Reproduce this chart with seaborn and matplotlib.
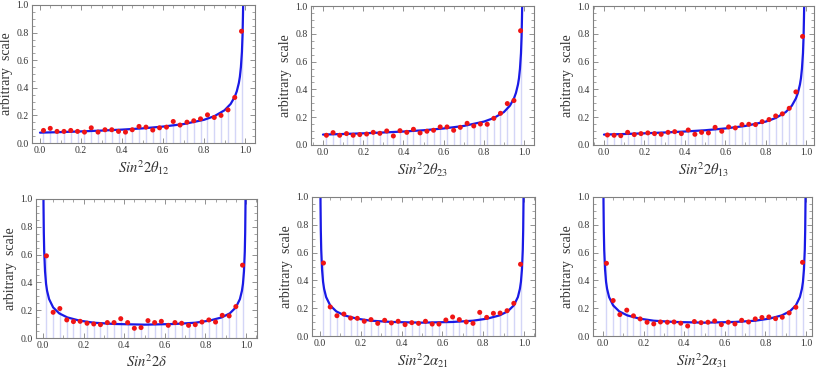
import numpy as np
import pandas as pd
import matplotlib
matplotlib.use("Agg")
import matplotlib.pyplot as plt
import seaborn as sns
from matplotlib.ticker import MultipleLocator, FormatStrFormatter

sns.set_theme(style="ticks")
plt.rcParams.update({
    "font.family": ["Liberation Serif", "DejaVu Serif"],
    "mathtext.fontset": "stix",
})

# ---- data ----
X_BINS = [0.017, 0.05, 0.083, 0.117, 0.15, 0.183, 0.217, 0.25, 0.283, 0.317,
          0.35, 0.383, 0.417, 0.45, 0.483, 0.517, 0.55, 0.583, 0.617, 0.65,
          0.683, 0.717, 0.75, 0.783, 0.817, 0.85, 0.883, 0.917, 0.95, 0.983]

theta12 = [0.091, 0.106, 0.084, 0.084, 0.091, 0.084, 0.079, 0.110, 0.079, 0.096,
           0.096, 0.084, 0.079, 0.096, 0.120, 0.115, 0.094, 0.110, 0.115, 0.156,
           0.130, 0.151, 0.161, 0.175, 0.204, 0.185, 0.200, 0.240, 0.330, 0.810]
theta23 = [0.070, 0.089, 0.070, 0.082, 0.070, 0.075, 0.079, 0.091, 0.084, 0.101,
           0.065, 0.103, 0.091, 0.113, 0.087, 0.099, 0.106, 0.130, 0.130, 0.106,
           0.127, 0.156, 0.137, 0.151, 0.149, 0.192, 0.228, 0.298, 0.320, 0.822]
theta13 = [0.072, 0.070, 0.067, 0.091, 0.075, 0.082, 0.087, 0.082, 0.077, 0.091,
           0.096, 0.082, 0.108, 0.077, 0.091, 0.087, 0.127, 0.099, 0.130, 0.123,
           0.147, 0.149, 0.147, 0.168, 0.183, 0.209, 0.224, 0.264, 0.382, 0.781]
delta = [0.591, 0.185, 0.212, 0.130, 0.118, 0.120, 0.106, 0.101, 0.096, 0.111,
         0.111, 0.139, 0.111, 0.070, 0.075, 0.125, 0.111, 0.120, 0.091, 0.111,
         0.106, 0.091, 0.096, 0.115, 0.130, 0.115, 0.163, 0.159, 0.226, 0.524]
alpha21 = [0.525, 0.209, 0.146, 0.158, 0.129, 0.127, 0.106, 0.118, 0.091, 0.113,
           0.094, 0.106, 0.082, 0.096, 0.091, 0.106, 0.086, 0.086, 0.115, 0.137,
           0.118, 0.101, 0.091, 0.170, 0.134, 0.163, 0.165, 0.182, 0.235, 0.516]
alpha31 = [0.523, 0.255, 0.154, 0.186, 0.145, 0.123, 0.099, 0.087, 0.101, 0.099,
           0.101, 0.092, 0.072, 0.104, 0.096, 0.099, 0.108, 0.082, 0.099, 0.087,
           0.113, 0.101, 0.123, 0.133, 0.137, 0.125, 0.135, 0.166, 0.207, 0.530]

# fitted curves
CURVE_MIX_X = [0.0, 0.1, 0.2, 0.3, 0.4, 0.5, 0.6, 0.7, 0.8, 0.85, 0.9, 0.93,
               0.95, 0.96, 0.97, 0.975, 0.98, 0.985, 0.988, 0.99, 0.992]
CURVE_MIX_Y = [0.075, 0.079, 0.084, 0.090, 0.097, 0.106, 0.119, 0.137, 0.168,
               0.194, 0.237, 0.283, 0.335, 0.375, 0.435, 0.48, 0.55, 0.66,
               0.78, 0.92, 1.08]
CURVE_PHASE_X = [0.0015, 0.0025, 0.004, 0.006, 0.01, 0.015, 0.02, 0.03, 0.05,
                 0.08, 0.12, 0.18, 0.25, 0.35, 0.5, 0.65, 0.75, 0.82, 0.88,
                 0.92, 0.95, 0.97, 0.98, 0.985, 0.99, 0.994, 0.996, 0.9975, 0.9985]
CURVE_PHASE_Y = [1.24, 0.96, 0.76, 0.62, 0.48, 0.39, 0.34, 0.28, 0.22,
                 0.177, 0.148, 0.125, 0.110, 0.101, 0.096, 0.101, 0.110, 0.125,
                 0.148, 0.177, 0.22, 0.28, 0.34, 0.39, 0.48, 0.62, 0.76, 0.96, 1.24]

PANELS = [
    (theta12, r"$Sin^{2}2\theta_{12}$", "mix"),
    (theta23, r"$Sin^{2}2\theta_{23}$", "mix"),
    (theta13, r"$Sin^{2}2\theta_{13}$", "mix"),
    (delta, r"$Sin^{2}2\delta$", "phase"),
    (alpha21, r"$Sin^{2}2\alpha_{21}$", "phase"),
    (alpha31, r"$Sin^{2}2\alpha_{31}$", "phase"),
]

# axes boxes in pixels: left, top, right, bottom
BOXES = [
    (32, 5, 255, 143), (311, 6, 534, 145), (593, 6, 814, 145),
    (36, 199, 257, 338), (312, 197, 535, 336), (593, 197, 812, 336),
]
X0 = [40, 323, 604, 43, 320, 603]   # pixel of x=0
X1 = [245, 524, 806, 246, 524, 806]  # pixel of x=1

W, H = 817, 370
fig = plt.figure(figsize=(W / 100, H / 100), dpi=100)
fig.patch.set_facecolor("white")

FRAME = "#808080"
for (vals, xlabel, kind), (l, t, r, b), p0, p1 in zip(PANELS, BOXES, X0, X1):
    ax = fig.add_axes([l / W, 1 - b / H, (r - l) / W, (b - t) / H])
    scale = p1 - p0
    ax.set_xlim((l - p0) / scale, (r - p0) / scale)
    ax.set_ylim(0, 1)

    df = pd.DataFrame({"x": X_BINS, "y": vals})
    ax.vlines(df["x"], 0, df["y"], color="#d4d6f7", linewidth=1.0, zorder=1)

    if kind == "mix":
        cdf = pd.DataFrame({"x": CURVE_MIX_X, "y": CURVE_MIX_Y})
    else:
        cdf = pd.DataFrame({"x": CURVE_PHASE_X, "y": CURVE_PHASE_Y})
    sns.lineplot(data=cdf, x="x", y="y", color="#1a1ae6", linewidth=1.6,
                 sort=False, ax=ax, zorder=2)
    sns.scatterplot(data=df, x="x", y="y", color="#f01414", s=13,
                    edgecolor="none", ax=ax, zorder=3)

    ax.set_xlabel(xlabel, fontsize=10.5, labelpad=2, color="#333333")
    ax.set_ylabel("arbitrary  scale", fontsize=10, labelpad=2, color="#333333")

    ax.xaxis.set_major_locator(MultipleLocator(0.2))
    ax.xaxis.set_minor_locator(MultipleLocator(0.05))
    ax.yaxis.set_major_locator(MultipleLocator(0.2))
    ax.yaxis.set_minor_locator(MultipleLocator(0.05))
    ax.xaxis.set_major_formatter(FormatStrFormatter("%.1f"))
    ax.yaxis.set_major_formatter(FormatStrFormatter("%.1f"))
    ax.tick_params(which="both", direction="in", top=True, right=True,
                   color=FRAME, labelsize=7, pad=2.5, labelcolor="#333333")
    ax.tick_params(which="major", length=3.5, width=0.6)
    ax.tick_params(which="minor", length=2, width=0.5)
    for sp in ax.spines.values():
        sp.set_color(FRAME)
        sp.set_linewidth(0.8)

fig.savefig("out.png", dpi=100, facecolor="white")
